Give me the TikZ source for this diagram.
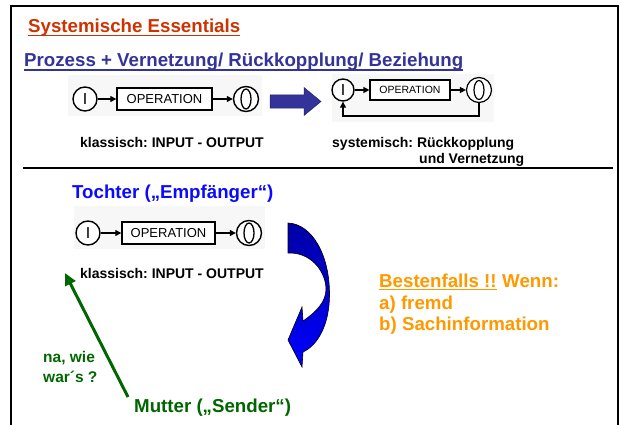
\documentclass[tikz,border=0pt]{standalone}
\usepackage{fontspec}
\setmainfont{Liberation Sans}
\usetikzlibrary{arrows.meta,calc}
\definecolor{cRed}{RGB}{204,51,0}
\definecolor{cPurple}{RGB}{51,51,153}
\definecolor{cBlue}{RGB}{10,10,255}
\definecolor{cOrange}{RGB}{255,153,0}
\definecolor{cGreen}{RGB}{0,102,0}
\definecolor{cDarkBlue}{RGB}{0,0,165}
\tikzset{
  txt/.style={anchor=base west, inner sep=0pt},
  hd/.style={txt, font=\fontsize{18.7}{20}\selectfont\bfseries},
  sm/.style={txt, font=\fontsize{14}{16}\selectfont\bfseries},
  gr/.style={txt, font=\fontsize{15.5}{17}\selectfont\bfseries, text=cGreen},
  circ/.style={circle, draw, line width=1.4pt, inner sep=0pt, fill=white, font=\fontsize{16}{16}\selectfont},
  opbox/.style={draw, line width=1.4pt, inner sep=0pt, fill=white, font=\fontsize{13}{13}\selectfont},
  arr/.style={-{Triangle[length=6pt,width=6pt]}, line width=1.3pt},
  bg/.style={fill=black!3, draw=none},
  uline/.style={line width=1.5pt},
}
\begin{document}
\frenchspacing
\begin{tikzpicture}[x=1pt,y=-1pt]
\useasboundingbox (0,0) rectangle (620,425);
\fill[white] (0,0) rectangle (620,425);
% frame
\draw[line width=2pt] (11,425) -- (11,6) -- (618,6) -- (618,425);
% headings
\node[hd, text=cRed] (t1) at (28,33) {Systemische Essentials};
\draw[uline, cRed] ([yshift=-2.5pt]t1.base west) -- ([yshift=-2.5pt]t1.base east);
\node[hd, text=cPurple] (t2) at (24,67) {Prozess + Vernetzung/ Rückkopplung/ Beziehung};
\draw[uline, cPurple] ([yshift=-3pt]t2.base west) -- ([yshift=-3pt]t2.base east);
% diagram 1
\fill[bg] (68,75) rectangle (262,116);
\node[circ, minimum size=24pt] (i1) at (85,99) {I};
\node[opbox, minimum width=95pt, minimum height=22pt] (b1) at (164.5,99) {OPERATION};
\node[circ, minimum size=25pt] (o1) at (246,99) {};
\draw[line width=1.3pt] (o1.center) ellipse [x radius=5pt, y radius=10pt];
\draw[arr] (i1) -- (b1);
\draw[arr] (b1) -- (o1);
% block arrow
\draw[fill=cPurple, draw=cPurple!70!black, line width=0.5pt]
  (270,95) -- (304,95) -- (304,87.5) -- (321,101.5) -- (304,115.5) -- (304,108) -- (270,108) -- cycle;
% diagram 2
\fill[bg] (332,74) rectangle (494,122);
\node[circ, minimum size=22pt] (i2) at (343,90) {I};
\node[opbox, line width=1.2pt, minimum width=80pt, minimum height=20pt, font=\fontsize{10.5}{10.5}\selectfont] (b2) at (410,90) {OPERATION};
\node[circ, line width=1.2pt, minimum size=25pt] (o2) at (479,90) {};
\draw[line width=1.2pt] (o2.center) ellipse [x radius=5pt, y radius=9.5pt];
\draw[arr] (i2) -- (b2);
\draw[arr] (b2) -- (o2);
\coordinate (fbk) at (0,116);
\draw[arr, line width=1.2pt] (o2.south) -- (o2.south |- fbk) -- (i2.south |- fbk) -- (i2.south);
% captions
\node[sm] (k1) at (80,147) {klassisch: INPUT - OUTPUT};
\node[sm] (s1) at (332,147) {systemisch: Rückkopplung};
\node[sm] (s2) at (419,163) {und Vernetzung};
% separator
\draw[line width=2pt] (23,168) -- (613,168);
% lower part
\node[hd, text=cBlue] (t3) at (72,198) {Tochter („Empfänger“)};
\fill[bg] (74,206) rectangle (265,249);
\node[circ, minimum size=24pt] (i3) at (88,233) {I};
\node[opbox, minimum width=93pt, minimum height=22pt] (b3) at (168.5,233) {OPERATION};
\node[circ, minimum size=25pt] (o3) at (249,233) {};
\draw[line width=1.3pt] (o3.center) ellipse [x radius=5pt, y radius=10pt];
\draw[arr] (i3) -- (b3);
\draw[arr] (b3) -- (o3);
\node[sm] (k3) at (80,278) {klassisch: INPUT - OUTPUT};
% curved blue arrow
\draw[line width=0.6pt, top color=cDarkBlue, bottom color=blue]
  (288,223) .. controls (312,224) and (330,255) .. (329.5,296)
  .. controls (329,325) and (318,345) .. (303,352)
  -- (302,367) -- (288,340) -- (302,307) -- (303,321)
  .. controls (316,312) and (326.5,302) .. (326,288)
  .. controls (325,270) and (310,252) .. (288,253) -- cycle;
% orange text
\node[hd, text=cOrange] (be) at (379,287) {Bestenfalls !!};
\draw[uline, cOrange] ([yshift=-2.5pt]be.base west) -- ([yshift=-2.5pt]be.base east);
\node[hd, text=cOrange] (we) at ([xshift=5.2pt]be.base east) {Wenn:};
\node[hd, text=cOrange] (fa) at (379,309) {a) fremd};
\node[hd, text=cOrange] (fb) at (379,330) {b) Sachinformation};
% green
\node[gr] (na) at (43,362) {na, wie};
\node[gr] (wa) at (43,382) {war´s ?};
\node[hd, text=cGreen] (mu) at (134,412) {Mutter („Sender“)};
\coordinate (gs) at (128,397);
\coordinate (ge) at (65,273);
\draw[cGreen, line width=3pt, -{Triangle[length=12pt,width=11pt]}] (gs) -- (ge);
\end{tikzpicture}
\end{document}
